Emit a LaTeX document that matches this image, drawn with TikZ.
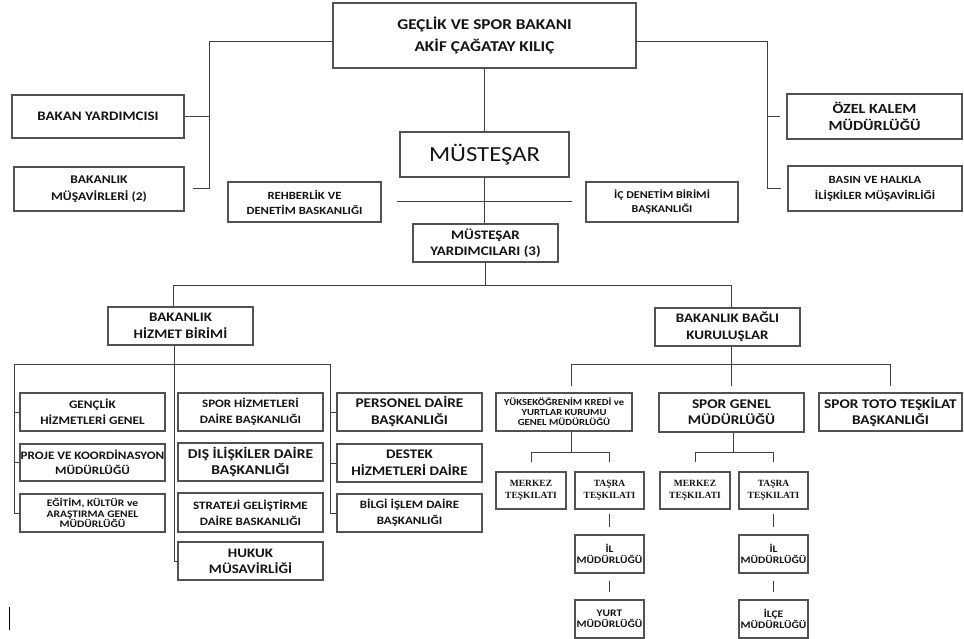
\documentclass[tikz,border=0pt]{standalone}
\usepackage{fontspec}
\setmainfont{Carlito}[FakeStretch=1.15]
\newfontfamily\serifbold{Liberation Serif}
\begin{document}
\tikzset{
  box/.style={draw=black!68, line width=1.3pt, fill=white, align=center, inner sep=0pt, text=black!92},
  conn/.style={draw=black!75, line width=1pt},
}
\newcommand\bx[9][]{%
  \node[box, font=\bfseries\fontsize{#7}{#8}\selectfont, minimum width={(#5-#3)*1pt}, minimum height={(#6-#4)*1pt}, #1] (#2) at ({(#3+#5)/2},{(#4+#6)/2}) {#9};}
\begin{tikzpicture}[x=1pt,y=-1pt]
\useasboundingbox (0,0) rectangle (964,639);
% top level
\bx{top}{333}{3}{636}{68}{15}{22}{GEÇLİK VE SPOR BAKANI\\AKİF ÇAĞATAY KILIÇ}
\bx{by}{12}{95}{184}{138}{13}{16}{BAKAN YARDIMCISI}
\bx{bm}{14}{167}{184}{211}{11.8}{16.5}{BAKANLIK\\MÜŞAVİRLERİ (2)}
\bx{ozel}{787}{94}{962}{139}{14}{17}{ÖZEL KALEM\\MÜDÜRLÜĞÜ}
\bx{basin}{788}{166}{962}{211}{11}{16}{BASIN VE HALKLA\\İLİŞKİLER MÜŞAVİRLİĞİ}
\bx[font=\mdseries\fontsize{21.5}{24}\selectfont]{must}{400}{132}{569}{177}{21.5}{24}{MÜSTEŞAR}
\bx{reh}{228}{182}{381}{222}{11}{15}{REHBERLİK VE\\DENETİM BASKANLIĞI}
\bx{ic}{586}{182}{738}{222}{10.5}{14}{İÇ DENETİM BİRİMİ\\BAŞKANLIĞI}
\bx{my}{413}{224}{558}{262}{13}{16}{MÜSTEŞAR\\YARDIMCILARI (3)}
\bx{hb}{108}{307}{253}{345}{13}{17}{BAKANLIK\\HİZMET BİRİMİ}
\bx{bk}{655}{308}{800}{346}{13}{17}{BAKANLIK BAĞLI\\KURULUŞLAR}
% left group
\bx{genc}{20}{393}{165}{431}{11.5}{16}{GENÇLİK\\HİZMETLERİ GENEL}
\bx{proje}{20}{444}{165}{481}{11.4}{15}{PROJE VE KOORDİNASYON\\MÜDÜRLÜĞÜ}
\bx{egit}{20}{494}{165}{532}{10}{10.5}{EĞİTİM, KÜLTÜR ve\\ARAŞTIRMA GENEL\\MÜDÜRLÜĞÜ}
\bx{sporh}{178}{393}{323}{431}{11.3}{16}{SPOR HİZMETLERİ\\DAİRE BAŞKANLIĞI}
\bx{dis}{178}{443}{323}{481}{13.5}{16}{DIŞ İLİŞKİLER DAİRE\\BAŞKANLIĞI}
\bx{strat}{178}{493}{323}{532}{11.3}{16}{STRATEJİ GELİŞTİRME\\DAİRE BASKANLIĞI}
\bx{hukuk}{178}{542}{323}{580}{13}{16}{HUKUK\\MÜSAVİRLİĞİ}
\bx{pers}{337}{393}{482}{431}{13.3}{17}{PERSONEL DAİRE\\BAŞKANLIĞI}
\bx{destek}{337}{444}{482}{482}{13.1}{17}{DESTEK\\HİZMETLERİ DAİRE}
\bx{bilgi}{337}{494}{482}{532}{11.3}{16}{BİLGİ İŞLEM DAİRE\\BAŞKANLIĞI}
% right group
\bx{yuk}{496}{393}{632}{431}{9.3}{10}{YÜKSEKÖĞRENİM KREDİ ve\\YURTLAR KURUMU\\GENEL MÜDÜRLÜĞÜ}
\bx{sg}{659}{393}{804}{432}{13.3}{16}{SPOR GENEL\\MÜDÜRLÜĞÜ}
\bx{toto}{819}{393}{962}{431}{13.3}{16}{SPOR TOTO TEŞKİLAT\\BAŞKANLIĞI}
\bx[font=\serifbold\bfseries\fontsize{9.5}{12.5}\selectfont]{mer1}{496}{472}{566}{509}{9}{12}{MERKEZ\\TEŞKILATI}
\bx[font=\serifbold\bfseries\fontsize{9.5}{12.5}\selectfont]{tas1}{575}{472}{644}{509}{9}{12}{TAŞRA\\TEŞKILATI}
\bx{il1}{575}{535}{644}{573}{10}{11}{İL\\MÜDÜRLÜĞÜ}
\bx{yurt}{575}{600}{644}{638}{10}{11}{YURT\\MÜDÜRLÜĞÜ}
\bx[font=\serifbold\bfseries\fontsize{9.5}{12.5}\selectfont]{mer2}{660}{472}{730}{509}{9}{12}{MERKEZ\\TEŞKILATI}
\bx[font=\serifbold\bfseries\fontsize{9.5}{12.5}\selectfont]{tas2}{739}{472}{808}{509}{9}{12}{TAŞRA\\TEŞKILATI}
\bx{il2}{739}{535}{808}{573}{10}{11}{İL\\MÜDÜRLÜĞÜ}
\bx{ilce}{739}{600}{808}{638}{10}{11}{İLÇE\\MÜDÜRLÜĞÜ}
% connectors top
\coordinate (L1) at (209,42);
\coordinate (R1) at (767,42);
\draw[conn, shorten >=8pt] (top.west |- L1) -- (L1) -- (L1 |- bm.east) -- (bm.east);
\draw[conn] (L1 |- by.east) -- (by.east);
\draw[conn, shorten >=6pt] (top.east |- R1) -- (R1) -- (R1 |- basin.west) -- (basin.west);
\draw[conn, shorten >=6pt] (R1 |- ozel.west) -- (ozel.west);
\draw[conn] (top.south) -- (must.north);
\draw[conn] (must.south) -- (must.south |- my.north);
\coordinate (HL) at (397,202);
\coordinate (HR) at (572,202);
\draw[conn] (HL) -- (HR);
% second level
\coordinate (J2a) at (173,285);
\coordinate (J2b) at (731,285);
\draw[conn] (my.south) -- (my.south |- J2a);
\draw[conn] (J2a |- hb.north) -- (J2a) -- (J2b) -- (J2b |- bk.north);
% left subtree
\coordinate (VL) at (14,364);
\coordinate (VM) at (174,364);
\coordinate (VR) at (330,364);
\draw[conn] (VM |- hb.south) -- (VM |- hukuk.west) -- (hukuk.west);
\draw[conn] (VL) -- (VR);
\draw[conn] (VL) -- (VL |- egit.west) -- (egit.west);
\draw[conn] (VL |- genc.west) -- (genc.west);
\draw[conn] (VL |- proje.west) -- (proje.west);
\draw[conn] (VR) -- (VR |- bilgi.west) -- (bilgi.west);
\draw[conn] (VR |- pers.west) -- (pers.west);
\draw[conn] (VR |- destek.west) -- (destek.west);
% right subtree
\coordinate (K1) at (571,364);
\coordinate (K2) at (731,364);
\coordinate (K3) at (890,364);
\draw[conn] (K2 |- bk.south) -- (K2);
\draw[conn] (K1) -- (K3);
\draw[conn, shorten >=6pt] (K1) -- (K1 |- yuk.north);
\draw[conn, shorten >=6pt] (K2) -- (K2 |- sg.north);
\draw[conn, shorten >=6pt] (K3) -- (K3 |- toto.north);
% YURTKUR subtree
\coordinate (Y0) at (571,452);
\draw[conn] (Y0 |- yuk.south) -- (Y0);
\draw[conn] (mer1.north |- Y0) -- (tas1.north |- Y0);
\draw[conn, shorten >=9pt] (mer1.north |- Y0) -- (mer1.north);
\draw[conn, shorten >=9pt] (tas1.north |- Y0) -- (tas1.north);
\draw[conn, shorten <=4pt, shorten >=7pt] (tas1.south) -- (il1.north);
\draw[conn, shorten <=7pt, shorten >=7pt] (il1.south) -- (yurt.north);
% SGM subtree
\coordinate (S0) at (733,452);
\draw[conn] (S0 |- sg.south) -- (S0);
\draw[conn] (mer2.north |- S0) -- (tas2.north |- S0);
\draw[conn, shorten >=9pt] (mer2.north |- S0) -- (mer2.north);
\draw[conn, shorten >=9pt] (tas2.north |- S0) -- (tas2.north);
\draw[conn, shorten <=4pt, shorten >=7pt] (tas2.south) -- (il2.north);
\draw[conn, shorten <=7pt, shorten >=7pt] (il2.south) -- (ilce.north);
% stray mark
\coordinate (M1) at (9,607);
\coordinate (M2) at (9,630);
\draw[line width=1pt, black] (M1) -- (M2);
\end{tikzpicture}
\end{document}
